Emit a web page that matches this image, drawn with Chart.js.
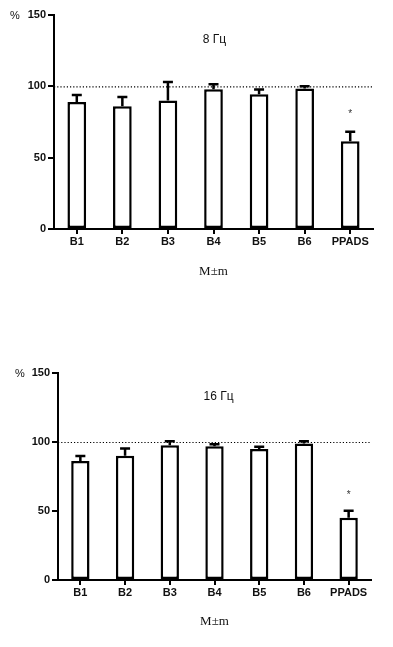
<!DOCTYPE html>
<html>
<head>
<meta charset="utf-8">
<script src="https://cdn.jsdelivr.net/npm/chart.js@4.4.0/dist/chart.umd.min.js"></script>
<style>
  html, body { margin: 0; padding: 0; background: #fff; width: 393px; height: 647px; overflow: hidden; }
  .wrap { position: absolute; left: 0; width: 393px; }
</style>
</head>
<body>
<div class="wrap" id="w1" style="top:0px;height:300px;"><canvas id="c1"></canvas></div>
<div class="wrap" id="w2" style="top:358px;height:289px;"><canvas id="c2"></canvas></div>
<script>
// ---- data ----
const categories = ['B1', 'B2', 'B3', 'B4', 'B5', 'B6', 'PPADS'];
const yTicks = [0, 50, 100, 150];
const refLevel = 100;

const title8 = '8 Гц';
const means8 = [89, 86, 90, 98, 94.5, 98.5, 61.5];
const sem8   = [5, 6.5, 13, 3.5, 3.2, 1.6, 6.6];
const sig8   = ['', '', '', '', '', '', '*'];

const title16 = '16 Гц';
const means16 = [86.3, 90, 97.7, 97, 95, 98.9, 45.1];
const sem16   = [3.6, 5.3, 2.9, 1.4, 1.5, 1.7, 5];
const sig16   = ['', '', '', '', '', '', '*'];

const unitLabel = '%';
const xTitle = 'M±m';

// ---- drawing ----
const SANS = '"Liberation Sans", Arial, sans-serif';
const SERIF = '"Liberation Serif", "Times New Roman", serif';

function makeChart(canvasId, title, means, sems, sig, geo) {
  const extras = {
    id: 'extras' + canvasId,
    beforeDatasetsDraw(chart) {
      const ctx = chart.ctx, ca = chart.chartArea, y = chart.scales.y;
      const yp = y.getPixelForValue(refLevel);
      ctx.save();
      ctx.strokeStyle = '#000';
      ctx.lineWidth = 1.2;
      ctx.setLineDash([1.2, 2]);
      ctx.beginPath();
      ctx.moveTo(ca.left, yp + 0.5);
      ctx.lineTo(ca.right, yp + 0.5);
      ctx.stroke();
      ctx.restore();
    },
    afterDatasetsDraw(chart) {
      const ctx = chart.ctx, ca = chart.chartArea, y = chart.scales.y;
      const meta = chart.getDatasetMeta(0);
      ctx.save();
      ctx.strokeStyle = '#000';
      ctx.lineWidth = 2.5;
      meta.data.forEach((bar, i) => {
        const x = bar.x;
        const y0 = y.getPixelForValue(means[i]);
        const y1 = y.getPixelForValue(means[i] + sems[i]);
        ctx.beginPath();
        ctx.moveTo(x, y0);
        ctx.lineTo(x, y1);
        ctx.moveTo(x - 5, y1);
        ctx.lineTo(x + 5, y1);
        ctx.stroke();
        if (sig[i]) {
          ctx.fillStyle = '#333';
          ctx.font = '10px ' + SANS;
          ctx.textAlign = 'center';
          ctx.textBaseline = 'middle';
          ctx.fillText(sig[i], x, y1 - geo.starOffset);
        }
      });
      // in-plot title
      ctx.fillStyle = '#111';
      ctx.font = '12px ' + SANS;
      ctx.textAlign = 'center';
      ctx.textBaseline = 'middle';
      ctx.fillText(title, (ca.left + ca.right) / 2 + geo.titleDx, y.getPixelForValue(132.5));
      // unit label
      ctx.font = '11px ' + SANS;
      ctx.fillText(unitLabel, ca.left - geo.unitDx, y.getPixelForValue(150) + 1);
      ctx.restore();
    }
  };

  return new Chart(document.getElementById(canvasId), {
    type: 'bar',
    data: {
      labels: categories,
      datasets: [{
        data: means,
        backgroundColor: '#fff',
        borderColor: '#000',
        borderWidth: 2.5,
        borderSkipped: false,
        categoryPercentage: 1,
        barPercentage: 0.41
      }]
    },
    options: {
      responsive: true,
      maintainAspectRatio: false,
      animation: false,
      events: [],
      layout: { padding: { top: geo.padTop, right: geo.padRight, left: 0, bottom: 0 } },
      plugins: { legend: { display: false }, tooltip: { enabled: false }, title: { display: false } },
      scales: {
        x: {
          offset: true,
          grid: { offset: false, drawOnChartArea: false, drawTicks: true, tickLength: 5, color: '#000', lineWidth: 2 },
          border: { color: '#000', width: 2 },
          ticks: { color: '#111', font: { family: SANS, size: 11, weight: 'bold' }, padding: 1, maxRotation: 0, autoSkip: false },
          title: { display: true, text: xTitle, color: '#111', font: { family: SERIF, size: 13 }, padding: { top: 0, bottom: geo.titlePadBottom } },
          afterFit(scale) { scale.height = geo.xHeight; }
        },
        y: {
          min: 0, max: 150,
          afterBuildTicks(scale) { scale.ticks = yTicks.map(v => ({ value: v })); },
          grid: { drawOnChartArea: false, drawTicks: true, tickLength: 6, color: '#000', lineWidth: 2 },
          border: { color: '#000', width: 2 },
          ticks: { color: '#111', font: { family: SANS, size: 11, weight: 'bold' }, padding: 2 },
          afterFit(scale) { scale.width = geo.yWidth; }
        }
      }
    },
    plugins: [extras]
  });
}

makeChart('c1', title8, means8, sem8, sig8,
  { padTop: 15, padRight: 20, xHeight: 71, yWidth: 54, titlePadBottom: 21, starOffset: 18, titleDx: 1, unitDx: 39 });
makeChart('c2', title16, means16, sem16, sig16,
  { padTop: 15, padRight: 22, xHeight: 67, yWidth: 58, titlePadBottom: 18, starOffset: 16, titleDx: 4, unitDx: 38 });
</script>
</body>
</html>
